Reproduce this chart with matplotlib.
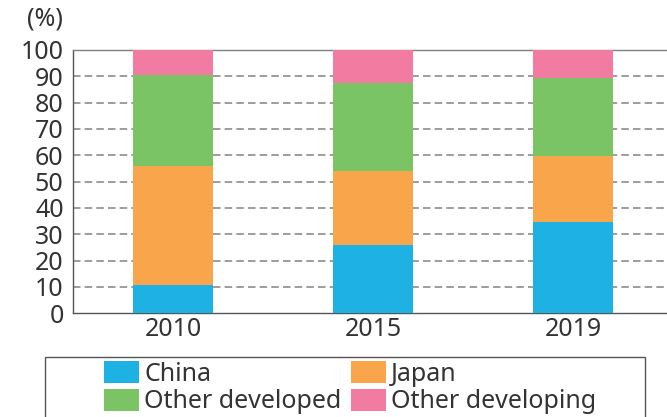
import matplotlib.pyplot as plt
from matplotlib.patches import Rectangle

years = ['2010', '2015', '2019']
china = [10.7, 25.9, 34.8]
japan = [45.2, 28.1, 24.9]
other_developed = [34.5, 33.3, 29.8]
other_developing = [9.6, 12.7, 10.5]

series = ['China', 'Japan', 'Other developed', 'Other developing']
cdict = {'China': '#1db1e4', 'Japan': '#f8a54b', 'Other developed': '#7bc466', 'Other developing': '#f27ca1'}
values = {'China': china, 'Japan': japan, 'Other developed': other_developed, 'Other developing': other_developing}

plt.rcParams['font.family'] = ['Noto Sans', 'DejaVu Sans']
plt.rcParams['font.weight'] = 'light'
txt_color = '#333333'
fs = 18

fig = plt.figure(figsize=(6.67, 4.17), dpi=100)
ax = fig.add_axes([0.110, 0.2487, 0.890, 0.6314])

x = list(range(len(years)))
bottom = [0, 0, 0]
bars = {}
for s in series:
    bars[s] = ax.bar(x, values[s], 0.4, bottom=bottom, color=cdict[s], zorder=3, label=s)
    bottom = [b + v for b, v in zip(bottom, values[s])]

ax.set_xlim(-0.5, 2.47)
ax.set_ylim(0, 100)
ax.set_yticks(range(0, 101, 10))
ax.set_xticks(x)
ax.set_xticklabels(years)
ax.tick_params(axis='both', length=0, labelsize=fs, colors=txt_color)
ax.tick_params(axis='y', pad=7)
ax.tick_params(axis='x', pad=3)

for yv in range(10, 100, 10):
    ax.axhline(yv, color='#8c8c8c', lw=1.2, ls=(0, (4.5, 2.5)), zorder=1)

ax.spines['right'].set_visible(False)
ax.spines['top'].set_color('#808080')
ax.spines['left'].set_color('#555555')
ax.spines['bottom'].set_color('#555555')
for sp in ['top', 'left', 'bottom']:
    ax.spines[sp].set_linewidth(1.0)

fig.text(45 / 667, 1 - 19 / 417, '(%)', ha='center', va='center', fontsize=fs, color=txt_color)

# legend box (bottom runs off the picture)
fig.patches.append(Rectangle((45.3 / 667, -0.05), (645 - 45.3) / 667, 0.05 + 1 - 357.3 / 417,
                             transform=fig.transFigure, fill=False, edgecolor='#555555', lw=1.0))

handles = [bars['China'], bars['Other developed'], bars['Japan'], bars['Other developing']]
labels = ['China', 'Other developed', 'Japan', 'Other developing']
leg = fig.legend(handles, labels, ncol=2, frameon=False, loc='upper left',
                 bbox_to_anchor=(104 / 667, 1 - 361 / 417), borderpad=0, borderaxespad=0,
                 handlelength=1.4, handleheight=1.0, handletextpad=0.2,
                 labelspacing=0.08, columnspacing=0.4, fontsize=fs)
for t in leg.get_texts():
    t.set_color(txt_color)

plt.savefig('out.png', dpi=100)
